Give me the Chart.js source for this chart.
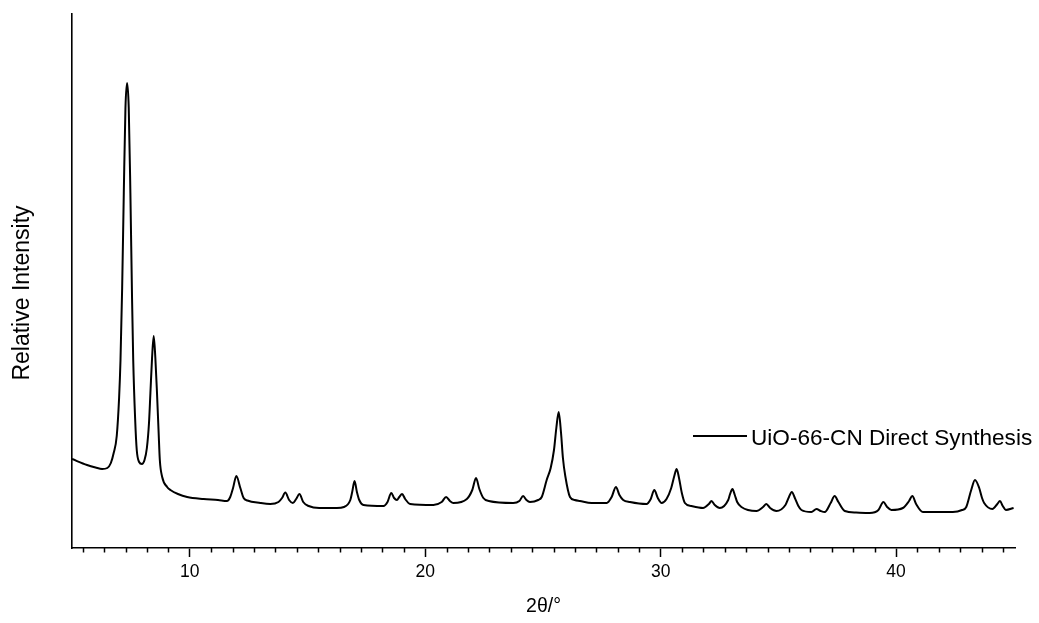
<!DOCTYPE html>
<html>
<head>
<meta charset="utf-8">
<script src="https://cdn.jsdelivr.net/npm/chart.js@4"></script>
<style>
html, body { margin: 0; padding: 0; background: #fff; }
#wrap { width: 1039px; height: 623px; }
</style>
</head>
<body>
<div id="wrap"><canvas id="xrd" width="1039" height="623"></canvas></div>
<script>
// diffraction pattern (2theta in degrees, intensity in arbitrary units)
var twoTheta = [
    5.00, 5.64, 6.00, 6.28, 6.50, 6.65, 6.77, 6.90, 7.00, 7.06, 7.13, 7.20, 7.27, 7.34,
    7.41, 7.48, 7.55, 7.60, 7.68, 7.75, 7.85, 7.97, 8.08, 8.18, 8.27, 8.33, 8.40, 8.47,
    8.54, 8.61, 8.68, 8.73, 8.83, 9.04, 9.18, 9.50, 9.89, 10.59, 11.20, 11.58, 11.72,
    11.84, 11.98, 12.15, 12.29, 12.45, 13.00, 13.42, 13.77, 13.92, 14.06, 14.22, 14.38,
    14.52, 14.66, 14.82, 15.05, 15.50, 16.25, 16.55, 16.82, 16.90, 17.00, 17.10, 17.20,
    17.38, 18.23, 18.40, 18.56, 18.68, 18.80, 18.90, 19.02, 19.15, 19.36, 20.35, 20.70,
    20.89, 21.05, 21.20, 21.77, 22.00, 22.16, 22.30, 22.47, 22.70, 23.74, 24.00, 24.16,
    24.30, 24.45, 24.80, 24.95, 25.16, 25.33, 25.47, 25.57, 25.67, 25.77, 25.85, 25.95,
    26.15, 26.35, 26.57, 27.07, 27.71, 27.92, 28.10, 28.25, 28.41, 28.70, 29.40, 29.58,
    29.73, 29.88, 30.04, 30.25, 30.45, 30.58, 30.68, 30.78, 30.90, 31.03, 31.30, 31.80,
    32.05, 32.16, 32.30, 32.51, 32.87, 32.95, 33.05, 33.15, 33.25, 33.43, 34.07, 34.35,
    34.49, 34.65, 34.92, 35.30, 35.45, 35.57, 35.70, 35.85, 35.98, 36.40, 36.62, 36.80,
    36.97, 37.22, 37.39, 37.55, 37.82, 38.30, 38.88, 39.25, 39.46, 39.62, 39.80, 40.29,
    40.55, 40.69, 40.85, 41.14, 42.41, 42.80, 42.98, 43.19, 43.35, 43.53, 43.65, 43.74,
    44.09, 44.30, 44.41, 44.53, 44.66, 44.99
];
var intensity = [
    89, 83, 80.5, 79, 80, 85, 95, 112, 150, 188, 260, 355, 440, 465,
    440, 355, 250, 188, 130, 98, 86, 84, 88, 100, 125, 155, 190, 212,
    190, 155, 115, 88, 71, 61, 58, 54, 51, 49, 48, 47, 51,
    60, 72, 60, 50, 47.5, 45, 44, 46, 50, 55.5, 48, 45,
    49, 54, 46, 42, 40, 40, 41, 48, 56, 67, 56, 48,
    43, 42, 46, 55, 50, 48, 51, 54, 49, 44, 43, 46,
    51, 47, 45, 49, 58, 70, 59, 50, 47, 45, 47, 52,
    48, 46, 48, 51, 68, 80, 98, 120, 136, 115, 90, 72,
    51, 48, 47, 45, 45, 51, 61, 53, 48, 46, 44, 49,
    58, 50, 45, 49, 60, 72, 79, 70, 55, 45, 42, 40,
    44, 47, 43, 40, 48, 54, 59, 53, 46, 41, 37, 41,
    44, 40, 37, 43, 51, 56, 50, 42, 38, 36, 39, 37,
    36, 45, 52, 46, 37, 35.5, 35, 38, 46, 41, 38, 40,
    47, 52, 44, 36, 36, 38, 41, 58, 68, 60, 50, 45,
    39, 44, 47, 42, 38, 40
];
var majorTicks = [10, 20, 30, 40];
var minorPerMajor = 11;
var seriesName = 'UiO-66-CN Direct Synthesis';
var xTitle = '2\u03B8/\u00B0';
var yTitle = 'Relative Intensity';

var fontFamily = '"Liberation Sans", Arial, Helvetica, sans-serif';

var points = twoTheta.map(function(t, i) {
    return { x: t, y: intensity[i] };
});

// tick values: majors every 10, the minor marks split each decade in 11 parts
var tickValues = [];
[0, 10, 20, 30, 40].forEach(function(m) {
    if (m > 0) tickValues.push(m);
    for (var j = 1; j < minorPerMajor; j++) {
        var v = m + j * 10 / minorPerMajor;
        if (v >= 5 && v <= 45.05) tickValues.push(v);
    }
});

function isMajor(v) {
    return majorTicks.indexOf(v) >= 0;
}

var extrasPlugin = {
    id: 'extras',
    afterDraw: function(chart) {
        var ctx = chart.ctx;
        var xs = chart.scales.x;
        ctx.save();

        // short minor ticks
        ctx.strokeStyle = '#000';
        ctx.lineWidth = 1.5;
        xs.ticks.forEach(function(t) {
            if (isMajor(t.value)) return;
            var px = Math.round(xs.getPixelForValue(t.value)) + 0.5;
            ctx.beginPath();
            ctx.moveTo(px, xs.top);
            ctx.lineTo(px, xs.top + 4.5);
            ctx.stroke();
        });

        // y title
        ctx.fillStyle = '#000';
        ctx.font = '23px ' + fontFamily;
        ctx.textAlign = 'center';
        ctx.textBaseline = 'middle';
        ctx.translate(23, 293);
        ctx.rotate(-Math.PI / 2);
        ctx.fillText(yTitle, 0, 0);
        ctx.restore();

        // legend
        ctx.save();
        ctx.strokeStyle = '#000';
        ctx.lineWidth = 2;
        ctx.beginPath();
        ctx.moveTo(693, 436);
        ctx.lineTo(747, 436);
        ctx.stroke();
        ctx.fillStyle = '#000';
        ctx.font = '22.6px ' + fontFamily;
        ctx.textAlign = 'left';
        ctx.textBaseline = 'alphabetic';
        ctx.fillText(chart.data.datasets[0].label, 751, 445);
        ctx.restore();
    }
};

var ctx = document.getElementById('xrd').getContext('2d');
var chart = new Chart(ctx, {
    type: 'line',
    data: {
        datasets: [{
            label: seriesName,
            data: points,
            borderColor: '#000',
            borderWidth: 2,
            pointRadius: 0,
            fill: false,
            cubicInterpolationMode: 'monotone'
        }]
    },
    options: {
        responsive: false,
        animation: false,
        devicePixelRatio: 1,
        layout: { padding: { top: 14, right: 24, bottom: 0, left: 0 } },
        plugins: {
            legend: { display: false },
            tooltip: { enabled: false }
        },
        scales: {
            x: {
                type: 'linear',
                min: 5,
                max: 45.05,
                afterBuildTicks: function(scale) {
                    scale.ticks = tickValues.map(function(v) { return { value: v }; });
                },
                afterFit: function(scale) {
                    scale.height = 75;
                },
                ticks: {
                    autoSkip: false,
                    maxRotation: 0,
                    padding: 5,
                    color: '#000',
                    font: { family: fontFamily, size: 17.5 },
                    callback: function(v) {
                        return isMajor(v) ? String(v) : '';
                    }
                },
                grid: {
                    drawOnChartArea: false,
                    drawTicks: true,
                    tickLength: 9,
                    tickWidth: 1.5,
                    tickColor: function(c) {
                        return c.tick && isMajor(c.tick.value) ? '#000' : 'rgba(0,0,0,0)';
                    }
                },
                border: { display: true, color: '#000', width: 1.6 },
                title: {
                    display: true,
                    text: xTitle,
                    color: '#000',
                    font: { family: fontFamily, size: 19.5 },
                    padding: { top: 0, bottom: 5 }
                }
            },
            y: {
                min: 0,
                max: 534,
                afterFit: function(scale) {
                    scale.width = 72;
                },
                ticks: { display: false },
                grid: { display: false },
                border: { display: true, color: '#000', width: 1.6 }
            }
        }
    },
    plugins: [extrasPlugin]
});
</script>
</body>
</html>
